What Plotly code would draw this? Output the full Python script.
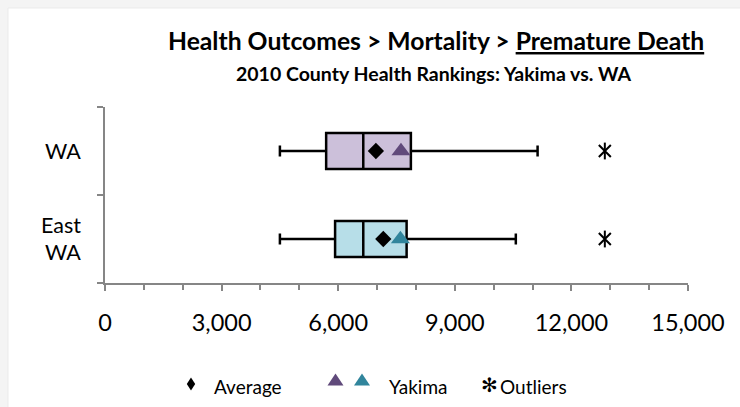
import plotly.graph_objects as go

# ---- data ----
categories = ["East<br>WA", "WA"]
lower_whisker = [4500, 4500]
q1_values = [5920, 5690]
median_values = [6645, 6645]
q3_values = [7760, 7870]
upper_whisker = [10570, 11130]
average_values = [7160, 6970]
yakima_values = [7600, 7615]
outlier_values = [12860, 12860]

box_fills = ["#B7DEE8", "#CCC0DA"]
yakima_colors = ["#31859C", "#604A7B"]

x_ticks = [0, 3000, 6000, 9000, 12000, 15000]
x_tick_labels = ["0", "3,000", "6,000", "9,000", "12,000", "15,000"]

FONT = "Lato"
GLYPH_FONT = "DejaVu Sans"

fig = go.Figure()

for i, cat in enumerate(categories):
    fig.add_trace(go.Box(
        y=[cat], q1=[q1_values[i]], median=[median_values[i]], q3=[q3_values[i]],
        lowerfence=[lower_whisker[i]], upperfence=[upper_whisker[i]],
        orientation="h", fillcolor=box_fills[i],
        line=dict(color="black", width=2.5), width=0.41, whiskerwidth=0.3,
        boxpoints=False, showlegend=False, hoverinfo="skip"))

fig.add_trace(go.Scatter(
    x=average_values, y=categories, mode="markers",
    marker=dict(symbol="diamond", size=12.5, color="black"),
    showlegend=False))
fig.add_trace(go.Scatter(
    x=yakima_values, y=categories, mode="markers",
    marker=dict(symbol="triangle-up", size=16.5, color=yakima_colors),
    showlegend=False))
fig.add_trace(go.Scatter(
    x=outlier_values, y=categories, mode="markers",
    marker=dict(symbol="x-thin-open", size=12, color="black", line=dict(color="black", width=2)),
    showlegend=False))
fig.add_trace(go.Scatter(
    x=outlier_values, y=categories, mode="markers",
    marker=dict(symbol="line-ns-open", size=12, color="black", line=dict(color="black", width=2)),
    showlegend=False))

W, H = 740, 407
L, R, T, B = 105, 52, 107, 124
pw, ph = W - L - R, H - T - B

def px(x):
    return (x - L) / pw

def py(y):
    return (H - B - y) / ph

fig.update_layout(
    width=W, height=H,
    margin=dict(l=L, r=R, t=T, b=B),
    paper_bgcolor="#f4f4f4", plot_bgcolor="white",
    font=dict(family=FONT, color="black"),
    showlegend=False,
    xaxis=dict(
        range=[0, 15000], tickvals=x_ticks, ticktext=x_tick_labels,
        showline=True, linecolor="#868686", linewidth=1.5,
        ticks="outside", ticklen=6, tickcolor="#868686", tickwidth=1.5,
        minor=dict(dtick=1000, ticks="outside", ticklen=5, tickcolor="#868686", tickwidth=1.5),
        showgrid=False, zeroline=False,
        tickfont=dict(size=23.5, family=FONT), ticklabelstandoff=12),
    yaxis=dict(
        type="category", categoryorder="array", categoryarray=categories,
        range=[-0.5, 1.5], tickson="boundaries",
        showline=True, linecolor="#868686", linewidth=1.5,
        ticks="outside", ticklen=6, tickcolor="#868686", tickwidth=1.5,
        showgrid=False, zeroline=False,
        tickfont=dict(size=21.5, family=FONT), ticklabelstandoff=18),
)

annotations = [
    dict(text="<b>Health Outcomes > Mortality > <u>Premature Death</u></b>",
         x=px(436), y=py(40), font=dict(size=24.7)),
    dict(text="<b>2010 County Health Rankings: Yakima vs. WA</b>",
         x=px(434), y=py(73.3), font=dict(size=19.5)),
    dict(text="Average", x=px(211.5), y=py(386), xanchor="left", font=dict(size=19)),
    dict(text="Yakima", x=px(386.5), y=py(386), xanchor="left", font=dict(size=19)),
    dict(text="✻", x=px(489), y=py(385), font=dict(size=20, family=GLYPH_FONT)),
    dict(text="Outliers", x=px(497.5), y=py(386), xanchor="left", font=dict(size=19)),
]
for a in annotations:
    a.setdefault("xanchor", "center")
    fig.add_annotation(xref="paper", yref="paper", showarrow=False, yanchor="middle", **a)


def legend_path(points):
    return "M " + " L ".join(f"{px(x):.5f},{py(y):.5f}" for x, y in points) + " Z"

# legend glyphs: diamond and two triangles
fig.add_shape(type="path", xref="paper", yref="paper",
              path=legend_path([(191, 377.5), (195.2, 384), (191, 390.5), (186.8, 384)]),
              fillcolor="black", line=dict(width=0))
for cx, col in [(335.5, yakima_colors[1]), (362, yakima_colors[0])]:
    fig.add_shape(type="path", xref="paper", yref="paper",
                  path=legend_path([(cx - 8, 385.5), (cx + 8, 385.5), (cx, 373.5)]),
                  fillcolor=col, line=dict(width=0))

# white chart area inside a faint grey shadow edge
fig.add_shape(type="rect", xref="paper", yref="paper", layer="below",
              x0=px(8), x1=px(745), y0=py(8), y1=py(412),
              fillcolor="white", line=dict(color="#ebebeb", width=1))

fig.write_html("out.html", config={"displayModeBar": False},
               post_script="document.body.style.margin='0';document.body.style.overflow='hidden';")
